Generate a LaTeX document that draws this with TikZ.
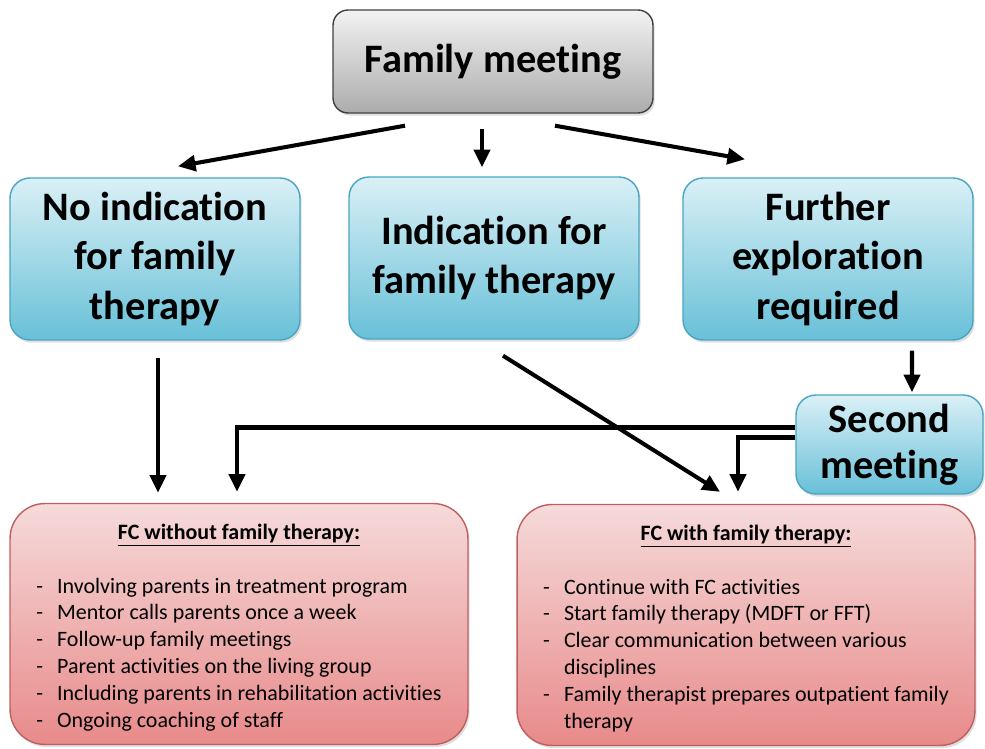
\documentclass[tikz,border=0pt]{standalone}
\usepackage{fontspec}
\setmainfont{Carlito}[Ligatures=NoCommon]
\usetikzlibrary{arrows.meta,calc,positioning,shadows}
\definecolor{bluetop}{RGB}{218,240,246}
\definecolor{bluebot}{RGB}{104,192,216}
\definecolor{blueline}{RGB}{72,165,195}
\definecolor{greytop}{RGB}{242,242,242}
\definecolor{greybot}{RGB}{172,172,172}
\definecolor{pinktop}{RGB}{246,218,218}
\definecolor{pinkbot}{RGB}{232,138,138}
\definecolor{pinkline}{RGB}{190,95,95}
\tikzset
{
    startbox/.style = {rectangle, rounded corners=0.3cm, draw=black!75, line width=0.8pt, top color=greytop, bottom color=greybot, minimum width=6.4cm, minimum height=2.06cm, align=center, font=\fontsize{23}{28}\selectfont\bfseries, drop shadow={opacity=0.25, shadow xshift=1pt, shadow yshift=-1.5pt}},
    choicebox/.style = {rectangle, rounded corners=0.4cm, draw=blueline, line width=0.8pt, top color=bluetop, bottom color=bluebot, minimum width=5.8cm, minimum height=3.24cm, align=center, font=\fontsize{23}{28.3}\selectfont\bfseries, drop shadow={opacity=0.25, shadow xshift=1pt, shadow yshift=-1.5pt}},
    fcbox/.style = {rectangle, rounded corners=0.7cm, draw=pinkline, line width=0.8pt, top color=pinktop, bottom color=pinkbot, minimum width=9.16cm, minimum height=4.82cm, font=\fontsize{12.5}{15.3}\selectfont, drop shadow={opacity=0.25, shadow xshift=1pt, shadow yshift=-1.5pt}},
    arr/.style = {line width=2.3pt, -{Triangle[length=10pt, width=9pt]}}
}
\begin{document}
\begin{tikzpicture}[x=0.02cm, y=-0.02cm]
	\useasboundingbox (0,0) rectangle (985,749);
	% top
	\node[startbox] (fam) at (493,61.5) {Family meeting};
	% three outcomes
	\node[choicebox] (noind) at (155,259) {No indication\\for family\\therapy};
	\node[choicebox] (ind) at (494,258) {Indication for\\family therapy};
	\node[choicebox] (furth) at (828,259) {Further\\exploration\\required};
	\node[choicebox, minimum width=3.74cm, minimum height=1.98cm, font=\fontsize{23}{26}\selectfont\bfseries] (sec) at (889.5,444.5) {Second\\meeting};
	% family care
	\node[fcbox] (fcwo) at (239,624) {%
		\begin{tabular}{@{}l@{\hspace{8pt}}l@{}}
		\multicolumn{2}{c}{\rule{0pt}{15.3pt}\underline{\textbf{FC without family therapy:}}}\\
		\\
		- & Involving parents in treatment program\\
		- & Mentor calls parents once a week\\
		- & Follow-up family meetings\\
		- & Parent activities on the living group\\
		- & Including parents in rehabilitation activities\\
		- & Ongoing coaching of staff
		\end{tabular}};
	\node[fcbox] (fcw) at (746,625) {%
		\begin{tabular}{@{}l@{\hspace{8pt}}l@{}}
		\multicolumn{2}{c}{\rule{0pt}{15.3pt}\underline{\textbf{FC with family therapy:}}}\\
		\\
		- & Continue with FC activities\\
		- & Start family therapy (MDFT or FFT)\\
		- & Clear communication between various\\
		  & disciplines\\
		- & Family therapist prepares outpatient family\\
		  & therapy
		\end{tabular}};
	% arrows
	\draw[arr] ($(fam.south)+(-88,12)$) -- ($(noind.north)+(23,-11)$);
	\draw[arr] ($(fam.south)+(-11,15)$) -- ($(ind.north)+(-12,-9)$);
	\draw[arr] ($(fam.south)+(62,12)$) -- ($(furth.north)+(-83,-18)$);
	\draw[arr] ($(noind.south)+(3,17)$) -- ($(fcwo.north)+(-81,-10)$);
	\draw[arr] ($(ind.south)+(9,16)$) -- ($(fcw.north)+(-26,-12)$);
	\draw[arr] ($(furth.south)+(84,10)$) -- ($(sec.north)+(22.5,-2)$);
	\draw[arr] ($(sec.west)+(0,-17)$) -| ($(fcwo.north)+(-2,-11)$);
	\draw[arr] ($(sec.west)+(0,-7)$) -| ($(fcw.north)+(-8,-12)$);
\end{tikzpicture}
\end{document}
